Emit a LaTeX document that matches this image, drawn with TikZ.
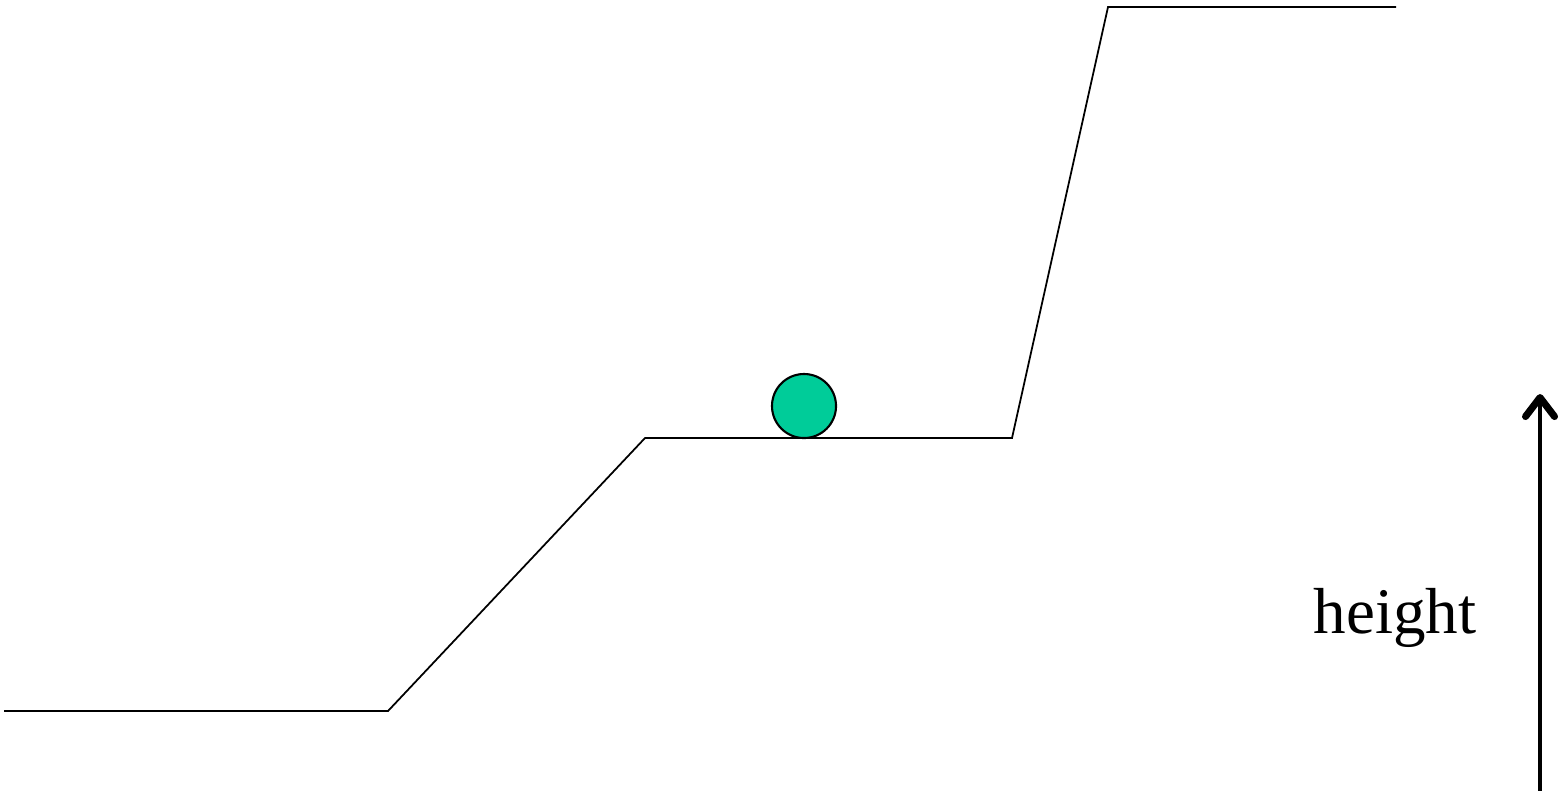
\documentclass[tikz,border=0pt]{standalone}
\usepackage{fontspec}
\setmainfont{Liberation Serif}
\usetikzlibrary{arrows.meta,positioning}
\definecolor{ballfill}{HTML}{00CC99}

\begin{document}
\begin{tikzpicture}[x=0.01cm,y=-0.01cm,>={Straight Barb[length=1.9mm,width=2.9mm,line width=2pt,round]},
 ground/.style={draw=black,line width=0.5pt,line join=miter},
 ball/.style={circle,draw=black,line width=0.6pt,fill=ballfill,minimum size=0.64cm,inner sep=0pt},
 lbl/.style={font=\fontsize{18.5}{22}\selectfont,inner sep=0pt}]
\useasboundingbox (0,0) rectangle (1558,790);
\coordinate (g0) at (4,711); \coordinate (g1) at (388,711);
\coordinate (g2) at (645,438); \coordinate (g3) at (1012,438);
\coordinate (g4) at (1108,7); \coordinate (g5) at (1396,7);
\draw[ground] (g0)--(g1)--(g2)--(g3)--(g4)--(g5);
\node[ball] (marble) at (804,406) {};
\node[lbl,anchor=base] (height) at (1395,633) {height};
\coordinate (hlow) at (1540,792); \coordinate (hhigh) at (1540,394);
\draw[->,line width=1.2pt] (hlow)--(hhigh);
\end{tikzpicture}
\end{document}
